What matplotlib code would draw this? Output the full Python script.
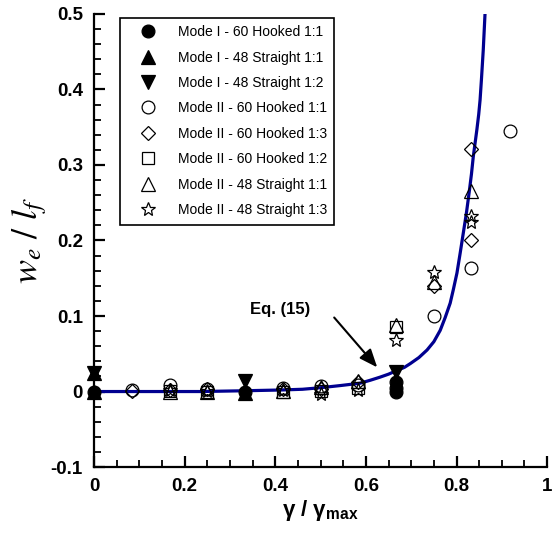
import matplotlib
matplotlib.use("Agg")
import matplotlib.pyplot as plt
from matplotlib.ticker import MultipleLocator, FixedLocator

plt.rcParams['font.family'] = ['Liberation Sans', 'DejaVu Sans']
plt.rcParams['mathtext.fontset'] = 'stix'

# ---- data ----
m1_hook11_x = [0.0, 0.333, 0.667, 0.667, 0.667]
m1_hook11_y = [0.0, 0.0, 0.0, 0.005, 0.012]

m1_str11_x = [0.0, 0.0, 0.333]
m1_str11_y = [0.0, 0.025, -0.002]

m1_str12_x = [0.0, 0.333, 0.667]
m1_str12_y = [0.025, 0.014, 0.026]

m2_hook11_x = [0.083, 0.167, 0.25, 0.417, 0.5, 0.583, 0.75, 0.833, 0.917]
m2_hook11_y = [0.002, 0.008, 0.004, 0.005, 0.007, 0.009, 0.100, 0.164, 0.345]

m2_hook13_x = [0.083, 0.167, 0.25, 0.417, 0.5, 0.583, 0.75, 0.833, 0.833]
m2_hook13_y = [0.001, 0.002, 0.003, 0.003, 0.004, 0.012, 0.140, 0.200, 0.321]

m2_hook12_x = [0.167, 0.25, 0.417, 0.5, 0.583, 0.667]
m2_hook12_y = [0.001, 0.0, 0.0, 0.001, 0.005, 0.085]

m2_str11_x = [0.167, 0.25, 0.417, 0.5, 0.583, 0.667, 0.75, 0.833]
m2_str11_y = [0.0, -0.001, 0.001, 0.006, 0.014, 0.088, 0.145, 0.265]

m2_str13_x = [0.167, 0.25, 0.417, 0.5, 0.583, 0.667, 0.75, 0.833, 0.833]
m2_str13_y = [0.002, 0.001, 0.002, -0.003, 0.002, 0.068, 0.158, 0.225, 0.232]

# Eq. (15) curve
curve_x = [0.0, 0.10, 0.234, 0.33, 0.41, 0.46, 0.499, 0.545, 0.587, 0.610, 0.631,
           0.650, 0.669, 0.685, 0.698, 0.717, 0.735, 0.750, 0.764, 0.775, 0.786,
           0.793, 0.801, 0.808, 0.815, 0.822, 0.828, 0.833, 0.837, 0.841, 0.845,
           0.849, 0.852, 0.855, 0.859, 0.863]
curve_y = [0.0, 0.0, 0.0, 0.001, 0.002, 0.003, 0.005, 0.008, 0.011, 0.015, 0.019,
           0.023, 0.028, 0.032, 0.037, 0.045, 0.055, 0.066, 0.081, 0.098, 0.117,
           0.135, 0.157, 0.183, 0.210, 0.237, 0.264, 0.288, 0.311, 0.329, 0.347,
           0.367, 0.386, 0.413, 0.452, 0.501]

labels = ["Mode I - 60 Hooked 1:1", "Mode I - 48 Straight 1:1", "Mode I - 48 Straight 1:2",
          "Mode II - 60 Hooked 1:1", "Mode II - 60 Hooked 1:3", "Mode II - 60 Hooked 1:2",
          "Mode II - 48 Straight 1:1", "Mode II - 48 Straight 1:3"]

fig = plt.figure(figsize=(5.6, 5.35), dpi=100)
ax = fig.add_axes([0.168, 0.127, 0.809, 0.847])

ax.plot(curve_x, curve_y, color='#000090', lw=2.3, zorder=3)

series = [
    (m1_hook11_x, m1_hook11_y, 'o', 9.2, 'black'),
    (m1_str11_x, m1_str11_y, '^', 9.6, 'black'),
    (m1_str12_x, m1_str12_y, 'v', 9.6, 'black'),
    (m2_hook11_x, m2_hook11_y, 'o', 9.2, 'none'),
    (m2_hook13_x, m2_hook13_y, 'D', 7.0, 'none'),
    (m2_hook12_x, m2_hook12_y, 's', 8.2, 'none'),
    (m2_str11_x, m2_str11_y, '^', 9.6, 'none'),
    (m2_str13_x, m2_str13_y, '*', 10.0, 'none'),
]
for (xs, ys, mk, ms, fc), lab in zip(series, labels):
    ax.plot(xs, ys, linestyle='none', marker=mk, markersize=ms,
            markerfacecolor=fc, markeredgecolor='black', markeredgewidth=0.9,
            label=lab, zorder=4, clip_on=False)

ax.set_xlim(0, 1)
ax.set_ylim(-0.1, 0.5)
ax.xaxis.set_major_locator(FixedLocator([0, 0.2, 0.4, 0.6, 0.8, 1.0]))
ax.xaxis.set_minor_locator(MultipleLocator(0.05))
ax.yaxis.set_major_locator(FixedLocator([-0.1, 0, 0.1, 0.2, 0.3, 0.4, 0.5]))
ax.yaxis.set_minor_locator(MultipleLocator(0.02))
ax.set_xticklabels(['0', '0.2', '0.4', '0.6', '0.8', '1'])
ax.set_yticklabels(['-0.1', '0', '0.1', '0.2', '0.3', '0.4', '0.5'])

for s in ['top', 'right']:
    ax.spines[s].set_visible(False)
for s in ['left', 'bottom']:
    ax.spines[s].set_linewidth(1.6)

ax.tick_params(which='major', direction='in', length=8, width=1.6,
               labelsize=13.5, pad=8)
ax.tick_params(which='minor', direction='in', length=5, width=1.3)
for t in ax.get_xticklabels() + ax.get_yticklabels():
    t.set_fontweight('bold')

ax.set_xlabel(r"γ / γ$_{\mathregular{max}}$", fontsize=16, fontweight='bold', labelpad=2)
ax.set_ylabel(r"$w_e\ /\ l_f$", fontsize=26, labelpad=1)

leg = ax.legend(loc='upper left', bbox_to_anchor=(0.057, 0.992), numpoints=1,
                fontsize=10, frameon=True, fancybox=False, framealpha=1,
                edgecolor='black', handletextpad=0.6, labelspacing=0.82,
                borderpad=0.55, handlelength=3.0, borderaxespad=0)
leg.get_frame().set_linewidth(1.2)

ax.text(0.41, 0.108, "Eq. (15)", fontsize=12, fontweight='bold',
        ha='center', va='center')
ax.annotate("", xy=(0.625, 0.032), xytext=(0.53, 0.098),
            arrowprops=dict(arrowstyle='-|>,head_length=1.1,head_width=0.45',
                            color='black', lw=1.5, shrinkA=0, shrinkB=0))

fig.savefig("out.png", dpi=100)
